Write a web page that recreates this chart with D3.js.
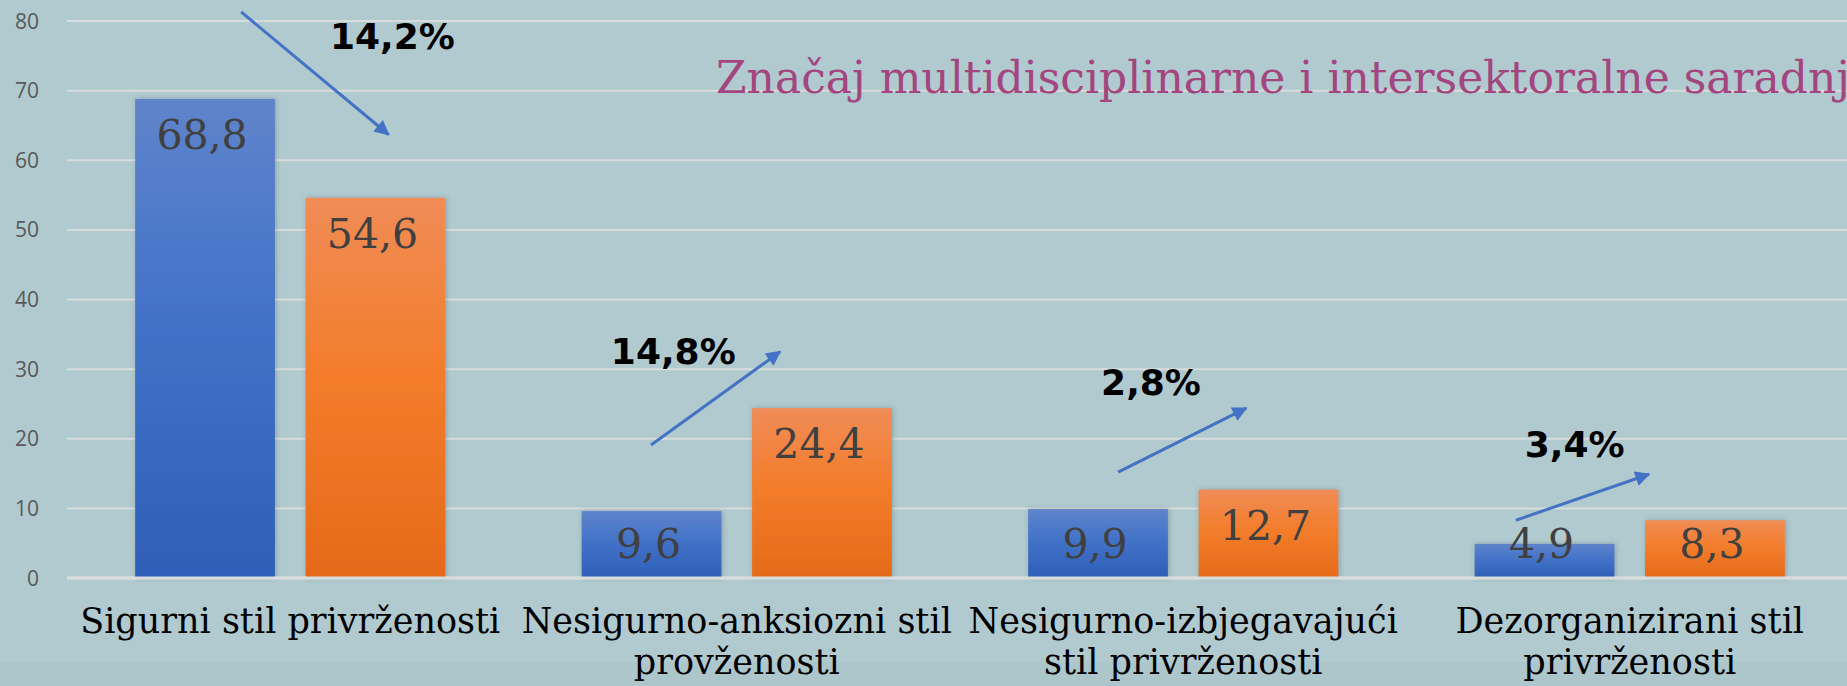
<!DOCTYPE html>
<html>
<head>
<meta charset="utf-8" />
<script src="https://d3js.org/d3.v7.min.js"></script>
<style>
  body { margin: 0; overflow: hidden; background: #b0cacf; }
</style>
</head>
<body>
<div id="chart"></div>
<script>

// categories (x axis), two series of values, y ticks
var categories = ["Sigurni stil privrženosti", "Nesigurno-anksiozni stil provženosti", "Nesigurno-izbjegavajući stil privrženosti", "Dezorganizirani stil privrženosti"]
var catLines = [["Sigurni stil privrženosti"], ["Nesigurno-anksiozni stil", "provženosti"], ["Nesigurno-izbjegavajući", "stil privrženosti"], ["Dezorganizirani stil", "privrženosti"]]
var series = ["prije", "poslije"]
var valuesBefore = [68.8, 9.6, 9.9, 4.9]
var valuesAfter = [54.6, 24.4, 12.7, 8.3]
var valueLabelsBefore = ["68,8", "9,6", "9,9", "4,9"]
var valueLabelsAfter = ["54,6", "24,4", "12,7", "8,3"]
var yTicks = [0, 10, 20, 30, 40, 50, 60, 70, 80]
var changeLabels = ["14,2%", "14,8%", "2,8%", "3,4%"]
var title = "Značaj multidisciplinarne i intersektoralne saradnje"

// annotation placement: band fraction + value units
var changeTextPos = [[0.589, 76.0], [0.218, 30.7], [0.316, 26.3], [0.265, 17.4]]
var arrowFrom = [[0.390, 81.3], [0.308, 19.1], [0.354, 15.2], [0.245, 8.3]]
var arrowTo = [[0.720, 63.7], [0.597, 32.5], [0.641, 24.4], [0.543, 14.9]]

var W = 1847, H = 686
var margin = {top: 21, left: 67, bottom: 108}

var svg = d3.select("#chart").append("svg")
  .attr("width", W)
  .attr("height", H)

svg.append("rect").attr("width", W).attr("height", H).attr("fill", "#b0cacf")
svg.append("rect").attr("y", 662).attr("width", W).attr("height", H - 662).attr("fill", "#acc6cb")

var defs = svg.append("defs")
var gBlue = defs.append("linearGradient").attr("id", "gradBlue").attr("x1", 0).attr("y1", 0).attr("x2", 0).attr("y2", 1)
gBlue.append("stop").attr("offset", "0%").attr("stop-color", "#5f84cb")
gBlue.append("stop").attr("offset", "45%").attr("stop-color", "#4372c8")
gBlue.append("stop").attr("offset", "100%").attr("stop-color", "#2e5fb8")
var gOr = defs.append("linearGradient").attr("id", "gradOrange").attr("x1", 0).attr("y1", 0).attr("x2", 0).attr("y2", 1)
gOr.append("stop").attr("offset", "0%").attr("stop-color", "#f08c57")
gOr.append("stop").attr("offset", "45%").attr("stop-color", "#f37d2c")
gOr.append("stop").attr("offset", "100%").attr("stop-color", "#e56a19")
var shadow = defs.append("filter").attr("id", "shadow").attr("x", "-10%").attr("y", "-10%").attr("width", "120%").attr("height", "120%")
shadow.append("feDropShadow").attr("dx", 1).attr("dy", 0).attr("stdDeviation", 2.5)
  .attr("flood-color", "#3d4f55").attr("flood-opacity", 0.35)

defs.append("marker")
  .attr("id", "arrowHead")
  .attr("viewBox", "0 0 10 10")
  .attr("refX", 9).attr("refY", 5)
  .attr("markerWidth", 5.5).attr("markerHeight", 5)
  .attr("orient", "auto")
  .append("path")
  .attr("d", "M0,0 L10,5 L0,10 z")
  .attr("fill", "#4472c4")

var x0 = d3.scaleBand()
  .domain(categories)
  .range([margin.left, margin.left + 4 * 446.5])

var x1 = d3.scaleBand()
  .domain(series)
  .range([0, x0.bandwidth()])
  .paddingInner(0.18)
  .paddingOuter(0.4)

var y = d3.scaleLinear()
  .domain([0, 80])
  .range([H - margin.bottom, margin.top])

var color = d3.scaleOrdinal().domain(series).range(["url(#gradBlue)", "url(#gradOrange)"])

// gridlines
svg.append("g")
  .selectAll("line")
  .data(yTicks)
  .enter().append("line")
  .attr("x1", margin.left).attr("x2", W)
  .attr("y1", function(d) { return y(d) }).attr("y2", function(d) { return y(d) })
  .attr("stroke", "#d9dcdc")
  .attr("stroke-width", function(d) { return d === 0 ? 3 : 2 })

// y axis labels
svg.append("g")
  .selectAll("text")
  .data(yTicks)
  .enter().append("text")
  .attr("x", 39)
  .attr("y", function(d) { return y(d) })
  .attr("dy", "0.36em")
  .attr("text-anchor", "end")
  .style("font-family", "'Open Sans', sans-serif")
  .style("font-size", "21px")
  .style("fill", "#595959")
  .text(function(d) { return d })

var rows = categories.map(function(c, i) {
  return {cat: c, values: [
    {key: series[0], value: valuesBefore[i], label: valueLabelsBefore[i]},
    {key: series[1], value: valuesAfter[i], label: valueLabelsAfter[i]}
  ]}
})

var groups = svg.append("g")
  .selectAll("g")
  .data(rows)
  .enter().append("g")
  .attr("transform", function(d) { return "translate(" + x0(d.cat) + ",0)" })

groups.selectAll("rect")
  .data(function(d) { return d.values })
  .enter().append("rect")
  .attr("x", function(d) { return x1(d.key) })
  .attr("y", function(d) { return y(d.value) })
  .attr("width", x1.bandwidth())
  .attr("height", function(d) { return y(0) - y(d.value) })
  .attr("fill", function(d) { return color(d.key) })
  .attr("filter", "url(#shadow)")

// redraw zero line on top of bars
svg.append("line")
  .attr("x1", margin.left).attr("x2", W)
  .attr("y1", y(0)).attr("y2", y(0))
  .attr("stroke", "#d9dcdc").attr("stroke-width", 3)

groups.selectAll("text.val")
  .data(function(d) { return d.values })
  .enter().append("text")
  .attr("class", "val")
  .attr("x", function(d) { return x1(d.key) + x1.bandwidth() / 2 - 3 })
  .attr("y", function(d) { return Math.min(y(d.value) + 50, y(0) - 20) })
  .attr("text-anchor", "middle")
  .style("font-family", "'DejaVu Serif', serif")
  .style("font-size", "41px")
  .style("fill", "#404040")
  .text(function(d) { return d.label })

// category labels
var catText = svg.append("g")
  .selectAll("text")
  .data(categories)
  .enter().append("text")
  .attr("x", function(d) { return x0(d) + x0.bandwidth() / 2 })
  .attr("y", y(0) + 55)
  .attr("text-anchor", "middle")
  .style("font-family", "'DejaVu Serif', serif")
  .style("font-size", "35px")
  .style("fill", "#000")

catText.selectAll("tspan")
  .data(function(d, i) { return catLines[i] })
  .enter().append("tspan")
  .attr("x", function() { var c = this.parentNode.__data__; return x0(c) + x0.bandwidth() / 2 })
  .attr("dy", function(d, i) { return i === 0 ? 0 : 41 })
  .text(function(d) { return d })

// change arrows
svg.append("g")
  .selectAll("line")
  .data(categories)
  .enter().append("line")
  .attr("x1", function(d, i) { return x0(d) + arrowFrom[i][0] * x0.bandwidth() })
  .attr("y1", function(d, i) { return y(arrowFrom[i][1]) })
  .attr("x2", function(d, i) { return x0(d) + arrowTo[i][0] * x0.bandwidth() })
  .attr("y2", function(d, i) { return y(arrowTo[i][1]) })
  .attr("stroke", "#4472c4")
  .attr("stroke-width", 3)
  .attr("marker-end", "url(#arrowHead)")

svg.append("g")
  .selectAll("text")
  .data(categories)
  .enter().append("text")
  .attr("x", function(d, i) { return x0(d) + changeTextPos[i][0] * x0.bandwidth() })
  .attr("y", function(d, i) { return y(changeTextPos[i][1]) })
  .style("font-family", "'DejaVu Sans', sans-serif")
  .style("font-weight", "bold")
  .style("font-size", "36px")
  .style("fill", "#000")
  .text(function(d, i) { return changeLabels[i] })

// title (runs off the right edge like the original)
svg.append("text")
  .attr("x", 716)
  .attr("y", 93)
  .style("font-family", "'DejaVu Serif', serif")
  .style("font-size", "44px")
  .style("fill", "#a3467f")
  .text(title)

</script>
</body>
</html>
